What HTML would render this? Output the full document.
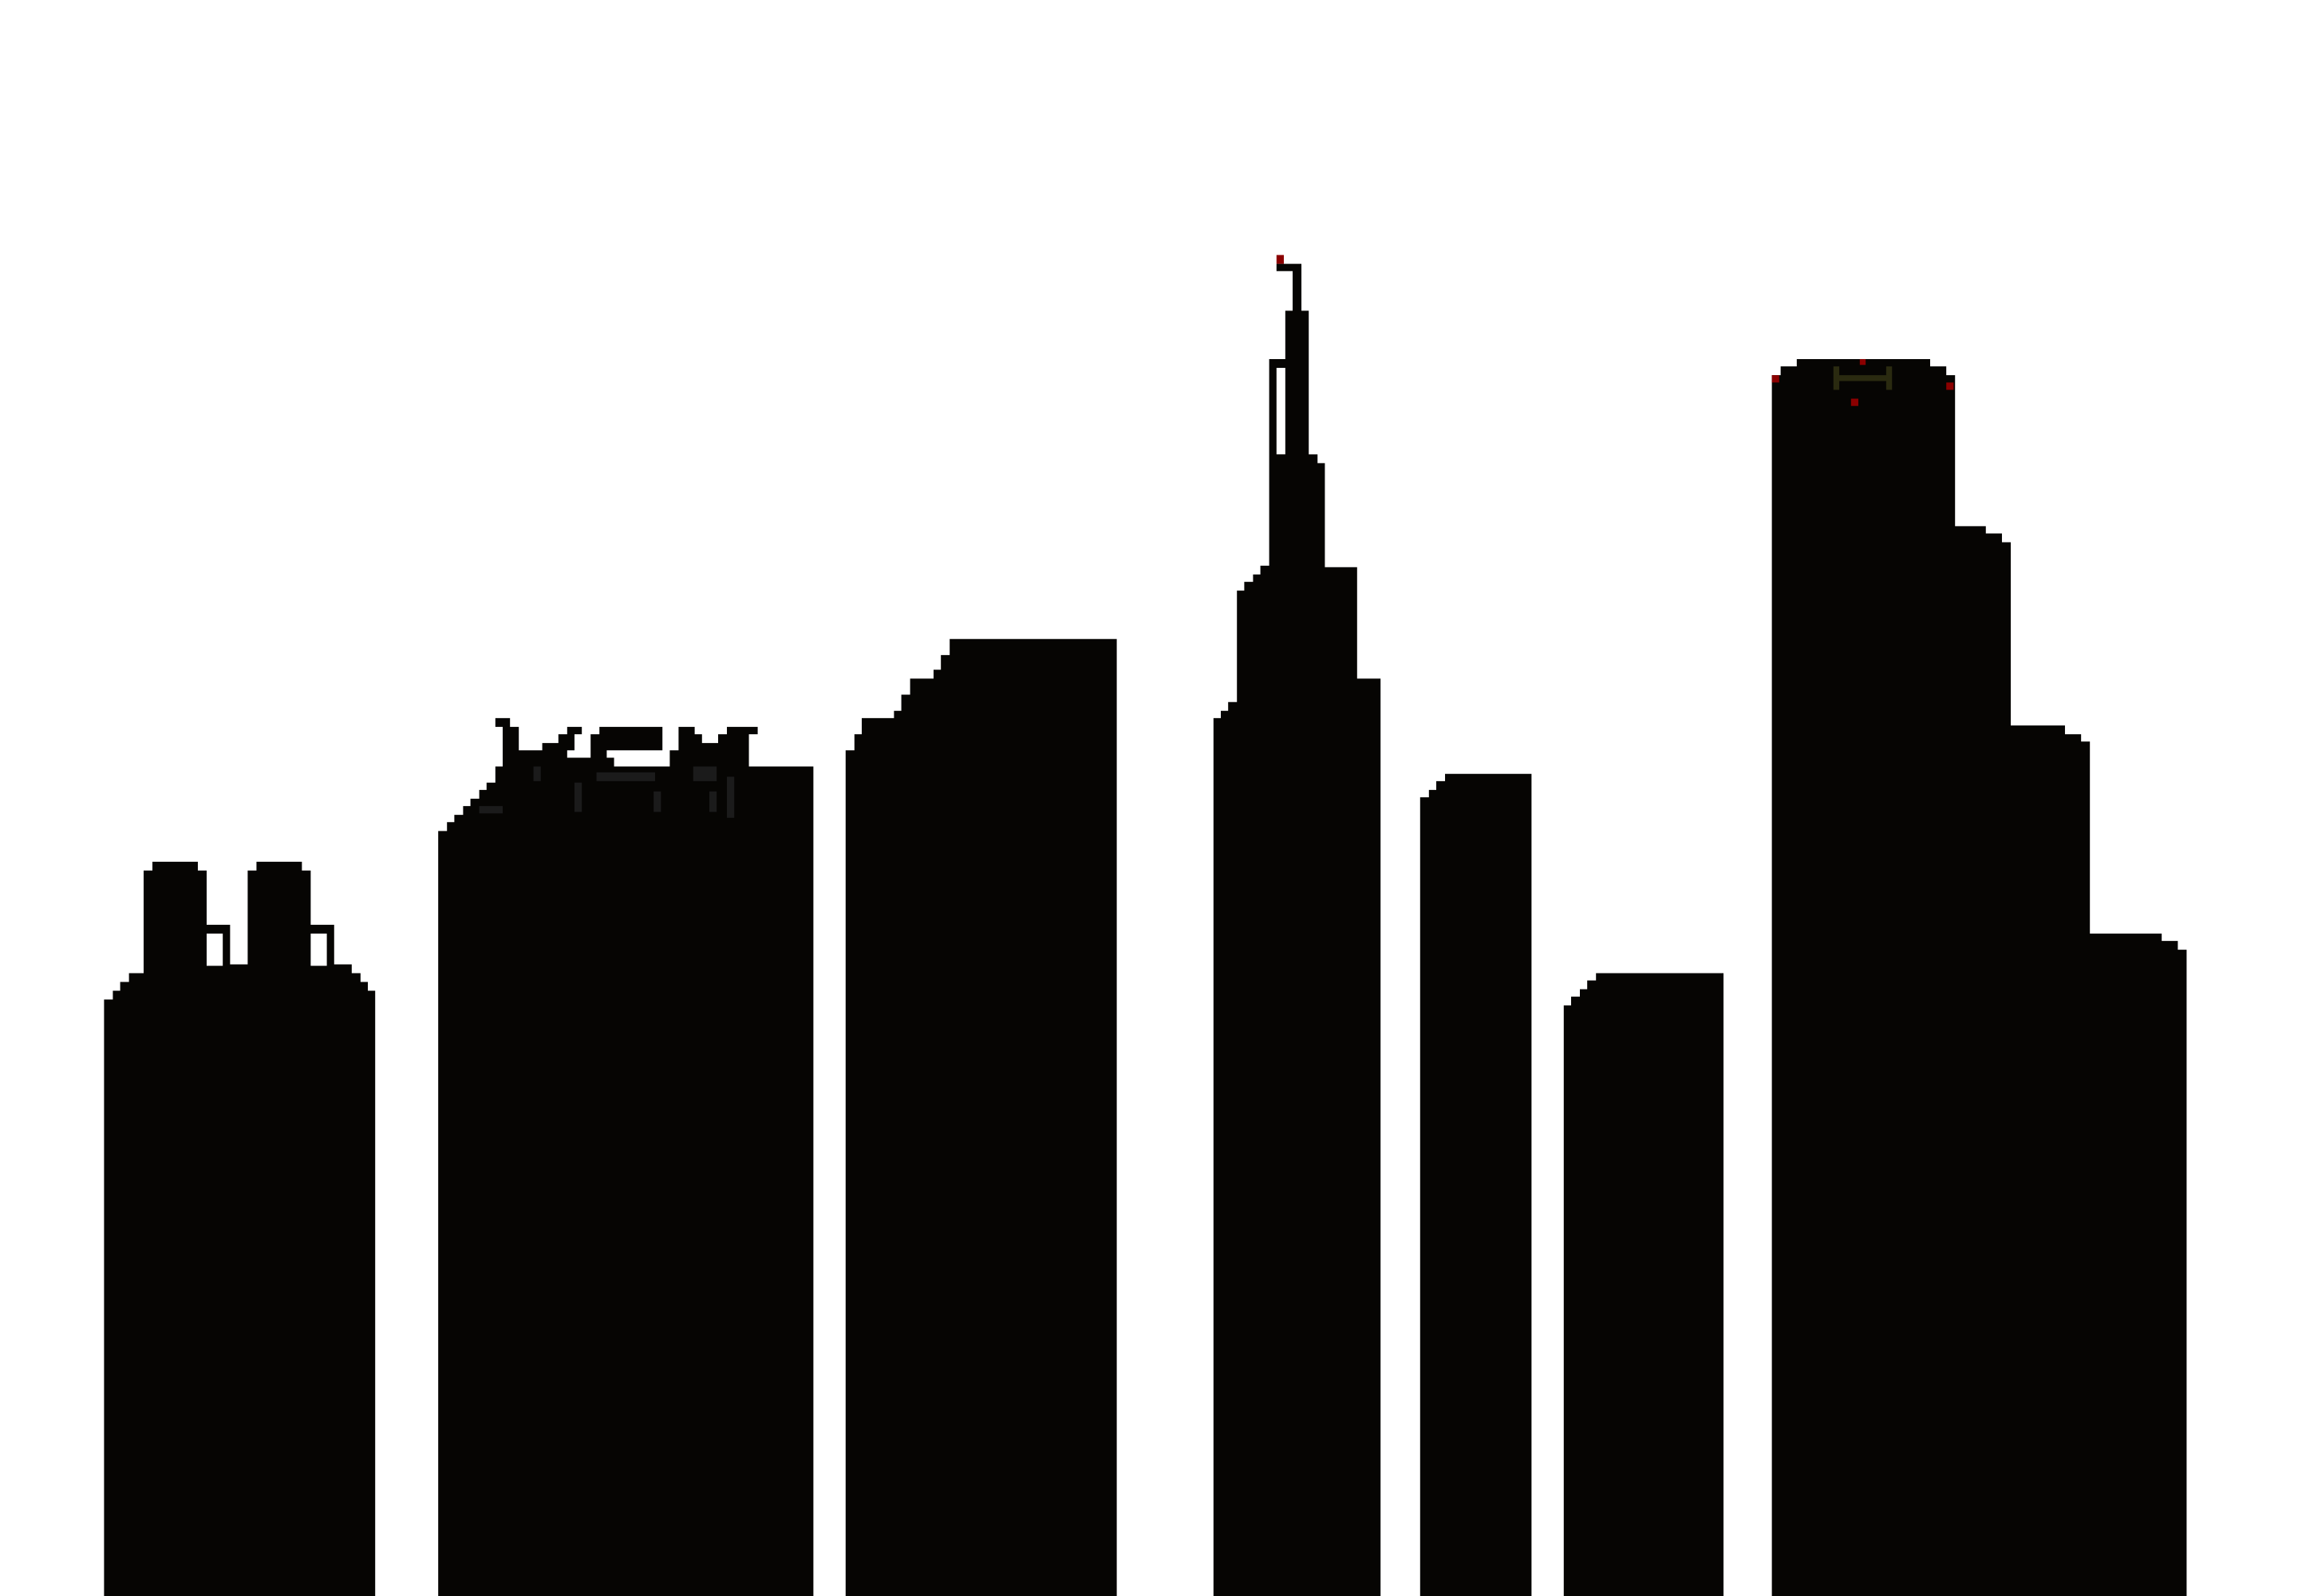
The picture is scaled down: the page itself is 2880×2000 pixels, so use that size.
<!DOCTYPE html>
<html><head><meta charset="utf-8"><style>
html,body{margin:0;padding:0;background:#fff;overflow:hidden}
svg{display:block;width:2880px;height:2000px}
</style></head><body>
<svg viewBox="0 0 1568 1089" preserveAspectRatio="none" xmlns="http://www.w3.org/2000/svg">
<rect width="1568" height="1089" fill="#fff"/>
<g fill="#060503">
<polygon points="71,1089 71,682 77,682 77,676 82,676 82,670 88,670 88,664 98,664 98,594 104,594 104,588 135,588 135,594 141,594 141,631 157,631 157,658 169,658 169,594 175,594 175,588 206,588 206,594 212,594 212,631 228,631 228,658 240,658 240,664 246,664 246,670 251,670 251,676 256,676 256,1089"/>
<rect x="141" y="637" width="11" height="22" fill="#fff"/>
<rect x="212" y="637" width="11" height="22" fill="#fff"/>
<polygon points="299,1089 299,567 305,567 305,561 310,561 310,556 316,556 316,550 321,550 321,545 327,545 327,539 332,539 332,534 338,534 338,523 343,523 343,496 338,496 338,490 348,490 348,496 354,496 354,512 370,512 370,507 381,507 381,501 387,501 387,496 397,496 397,501 392,501 392,512 387,512 387,517 403,517 403,501 409,501 409,496 452,496 452,512 414,512 414,517 419,517 419,523 457,523 457,512 463,512 463,496 474,496 474,501 479,501 479,507 490,507 490,501 496,501 496,496 517,496 517,501 511,501 511,523 555,523 555,1089"/>
<polygon points="577,1089 577,512 583,512 583,501 588,501 588,490 610,490 610,485 615,485 615,474 621,474 621,463 637,463 637,457 642,457 642,447 648,447 648,436 762,436 762,1089"/>
<polygon points="828,1089 828,490 833,490 833,485 838,485 838,479 844,479 844,403 849,403 849,397 855,397 855,392 860,392 860,386 866,386 866,245 877,245 877,212 882,212 882,185 871,185 871,180 888,180 888,212 893,212 893,310 899,310 899,316 904,316 904,387 926,387 926,463 942,463 942,1089"/>
<rect x="871" y="251" width="6" height="59" fill="#fff"/>
<rect x="871" y="174" width="5" height="6" fill="#8b0000"/>
<polygon points="969,1089 969,544 975,544 975,539 980,539 980,533 986,533 986,528 1045,528 1045,1089"/>
<polygon points="1067,1089 1067,686 1072,686 1072,680 1078,680 1078,675 1083,675 1083,669 1089,669 1089,664 1176,664 1176,1089"/>
<polygon points="1209,1089 1209,256 1215,256 1215,250 1226,250 1226,245 1317,245 1317,250 1328,250 1328,256 1334,256 1334,359 1355,359 1355,364 1366,364 1366,370 1372,370 1372,495 1409,495 1409,501 1420,501 1420,506 1426,506 1426,637 1475,637 1475,642 1486,642 1486,648 1492,648 1492,1089"/>
</g>
<g>
<rect x="1253" y="256" width="37" height="4" fill="#2a2a10"/>
<rect x="1251" y="250" width="4" height="16" fill="#2a2a10"/>
<rect x="1287" y="250" width="4" height="16" fill="#2a2a10"/>
<rect x="1263" y="272" width="5" height="5" fill="#8b0000"/>
<rect x="1269" y="245" width="4" height="4" fill="#8b0000"/>
<rect x="1209" y="256" width="5" height="5" fill="#8b0000"/>
<rect x="1328" y="261" width="5" height="5" fill="#8b0000"/>
</g>
<g fill="#1b1b1b">
<rect x="407" y="527" width="40" height="6"/>
<rect x="392" y="534" width="5" height="20"/>
<rect x="446" y="540" width="5" height="14"/>
<rect x="484" y="540" width="5" height="14"/>
<rect x="364" y="523" width="5" height="10"/>
<rect x="473" y="523" width="16" height="10"/>
<rect x="496" y="530" width="5" height="28"/>
<rect x="327" y="550" width="16" height="5"/>
</g>
</svg>
</body></html>
